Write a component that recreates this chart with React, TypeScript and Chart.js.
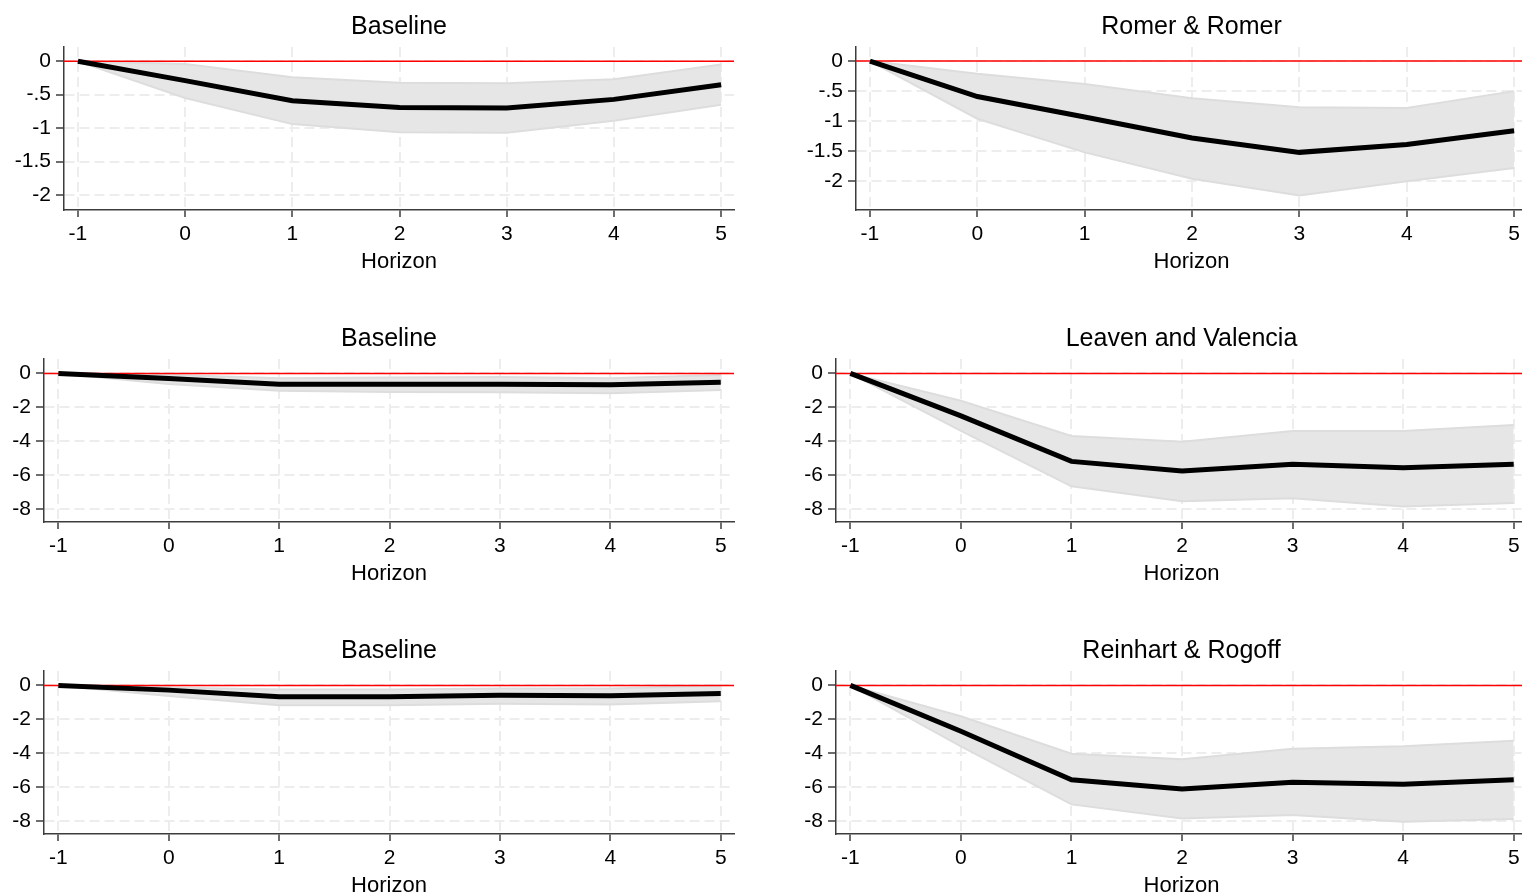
import React, { useEffect, useRef } from "react";
import { Chart, registerables } from "chart.js";

Chart.register(...registerables);

// Horizon (x) values shared by every panel
const horizon = [-1, 0, 1, 2, 3, 4, 5];

// Y tick sets
const smallTicks = [0, -0.5, -1, -1.5, -2];
const smallTickLabels = ["0", "-.5", "-1", "-1.5", "-2"];
const largeTicks = [0, -2, -4, -6, -8];
const largeTickLabels = ["0", "-2", "-4", "-6", "-8"];

// Panel titles
const titles = [
  "Baseline",
  "Romer & Romer",
  "Baseline",
  "Leaven and Valencia",
  "Baseline",
  "Reinhart & Rogoff",
];

// Point estimates and confidence bands
const baseA = [0, -0.29, -0.59, -0.69, -0.7, -0.57, -0.35];
const baseAUpper = [0, -0.04, -0.24, -0.32, -0.33, -0.27, -0.05];
const baseALower = [0, -0.55, -0.94, -1.06, -1.07, -0.89, -0.65];

const romer = [0, -0.59, -0.93, -1.28, -1.52, -1.39, -1.16];
const romerUpper = [0, -0.21, -0.38, -0.62, -0.77, -0.78, -0.5];
const romerLower = [0, -0.96, -1.52, -1.96, -2.24, -2.0, -1.78];

const baseB = [0, -0.3, -0.64, -0.64, -0.64, -0.67, -0.53];
const baseBUpper = [0, -0.08, -0.28, -0.24, -0.22, -0.28, -0.1];
const baseBLower = [0, -0.62, -1.03, -1.1, -1.12, -1.18, -0.98];

const laeven = [0, -2.51, -5.2, -5.77, -5.37, -5.58, -5.37];
const laevenUpper = [0, -1.62, -3.7, -4.04, -3.4, -3.4, -3.05];
const laevenLower = [0, -3.4, -6.67, -7.56, -7.37, -7.86, -7.66];

const baseC = [0, -0.28, -0.67, -0.67, -0.59, -0.61, -0.48];
const baseCUpper = [0, -0.12, -0.24, -0.24, -0.18, -0.18, 0];
const baseCLower = [0, -0.63, -1.17, -1.17, -1.09, -1.13, -0.93];

const reinhart = [0, -2.71, -5.58, -6.12, -5.72, -5.84, -5.58];
const reinhartUpper = [0, -1.82, -4.04, -4.36, -3.74, -3.6, -3.27];
const reinhartLower = [0, -3.6, -7.03, -7.86, -7.66, -8.06, -7.9];

// Axis ranges
const xMin = -1.13;
const xMax = 5.12;
const smallRangeA = [-2.224, 0.213];
const smallRangeB = [-2.48, 0.235];
const largeRange = [-8.78, 0.85];

const FONT = "'Liberation Sans', Arial, Helvetica, sans-serif";

type PanelSpec = {
  title: string;
  mid: number[];
  upper: number[];
  lower: number[];
  ticks: number[];
  tickLabels: string[];
  range: number[];
  left: number;
  top: number;
  width: number;
  axisWidth: number;
  padRight: number;
};

const CANVAS_H = 280;
const X_AXIS_H = 65;
const PLOT_BOTTOM = 210;

const panels: PanelSpec[] = [
  { title: titles[0], mid: baseA, upper: baseAUpper, lower: baseALower, ticks: smallTicks, tickLabels: smallTickLabels, range: smallRangeA, left: 0, top: 0, width: 760, axisWidth: 64, padRight: 26 },
  { title: titles[1], mid: romer, upper: romerUpper, lower: romerLower, ticks: smallTicks, tickLabels: smallTickLabels, range: smallRangeB, left: 760, top: 0, width: 780, axisWidth: 96, padRight: 13 },
  { title: titles[2], mid: baseB, upper: baseBUpper, lower: baseBLower, ticks: largeTicks, tickLabels: largeTickLabels, range: largeRange, left: 0, top: 312, width: 760, axisWidth: 44, padRight: 26 },
  { title: titles[3], mid: laeven, upper: laevenUpper, lower: laevenLower, ticks: largeTicks, tickLabels: largeTickLabels, range: largeRange, left: 760, top: 312, width: 780, axisWidth: 76, padRight: 13 },
  { title: titles[4], mid: baseC, upper: baseCUpper, lower: baseCLower, ticks: largeTicks, tickLabels: largeTickLabels, range: largeRange, left: 0, top: 624, width: 760, axisWidth: 44, padRight: 26 },
  { title: titles[5], mid: reinhart, upper: reinhartUpper, lower: reinhartLower, ticks: largeTicks, tickLabels: largeTickLabels, range: largeRange, left: 760, top: 624, width: 780, axisWidth: 76, padRight: 13 },
];

const toPoints = (ys: number[]) => horizon.map((x, i) => ({ x, y: ys[i] }));

function Panel({ spec }: { spec: PanelSpec }) {
  const ref = useRef<HTMLCanvasElement>(null);

  useEffect(() => {
    const tickFont = { family: FONT, size: 21 };
    const gridCommon = {
      color: "#ededed",
      lineWidth: 2,
      tickColor: "#3c3c3c",
      tickWidth: 1.5,
      tickBorderDash: [],
    };
    const chart = new Chart(ref.current!, {
      type: "line",
      data: {
        datasets: [
          {
            data: toPoints(spec.upper),
            fill: "+1",
            borderColor: "#dddddd",
            borderWidth: 2,
            backgroundColor: "#e6e6e6",
            pointRadius: 0,
            tension: 0,
            order: 3,
          },
          {
            data: toPoints(spec.lower),
            fill: false,
            borderColor: "#dddddd",
            borderWidth: 2,
            pointRadius: 0,
            tension: 0,
            order: 2,
          },
          {
            data: [
              { x: xMin, y: 0 },
              { x: xMax, y: 0 },
            ],
            fill: false,
            borderColor: "#ff0000",
            borderWidth: 1.5,
            pointRadius: 0,
            order: 1,
          },
          {
            data: toPoints(spec.mid),
            fill: false,
            borderColor: "#000000",
            borderWidth: 5,
            pointRadius: 0,
            tension: 0,
            order: 0,
          },
        ],
      },
      options: {
        animation: false,
        responsive: false,
        events: [],
        layout: {
          padding: { top: 0, left: 0, right: spec.padRight, bottom: CANVAS_H - PLOT_BOTTOM - X_AXIS_H },
        },
        plugins: {
          legend: { display: false },
          tooltip: { enabled: false },
          title: {
            display: true,
            fullSize: false,
            text: spec.title,
            color: "#000",
            font: { family: FONT, size: 25, weight: "normal", lineHeight: 1.2 },
            padding: { top: 12, bottom: 5 },
          },
        },
        scales: {
          x: {
            type: "linear",
            min: xMin,
            max: xMax,
            afterBuildTicks: (s: any) => {
              s.ticks = horizon.map((v) => ({ value: v }));
            },
            afterFit: (s: any) => {
              s.height = X_AXIS_H;
            },
            ticks: {
              font: tickFont,
              color: "#000",
              padding: 4.5,
              maxRotation: 0,
              autoSkip: false,
              callback: (v: any) => String(v),
            },
            grid: { ...gridCommon, tickLength: 7 },
            border: { color: "#3c3c3c", width: 1.5, dash: [10, 5] },
            title: {
              display: true,
              text: "Horizon",
              color: "#000",
              font: { family: FONT, size: 22, lineHeight: 1.2 },
              padding: { top: 0, bottom: 0 },
            },
          },
          y: {
            type: "linear",
            min: spec.range[0],
            max: spec.range[1],
            afterBuildTicks: (s: any) => {
              s.ticks = spec.ticks.map((v) => ({ value: v }));
            },
            afterFit: (s: any) => {
              s.width = spec.axisWidth;
            },
            ticks: {
              font: tickFont,
              color: "#000",
              padding: 5,
              autoSkip: false,
              callback: (v: any) => spec.tickLabels[spec.ticks.indexOf(v)] ?? "",
            },
            grid: { ...gridCommon, tickLength: 8 },
            border: { color: "#3c3c3c", width: 1.5, dash: [10, 5] },
          },
        },
      },
    } as any);
    return () => chart.destroy();
  }, [spec]);

  return (
    <div style={{ position: "absolute", left: spec.left, top: spec.top, width: spec.width, height: CANVAS_H }}>
      <canvas ref={ref} width={spec.width} height={CANVAS_H} style={{ display: "block" }} />
    </div>
  );
}

export default function App() {
  return (
    <div
      style={{
        position: "fixed",
        left: 0,
        top: 0,
        width: 1522,
        height: 894,
        overflow: "hidden",
        background: "#ffffff",
      }}
    >
      {panels.map((p, i) => (
        <Panel key={i} spec={p} />
      ))}
    </div>
  );
}
